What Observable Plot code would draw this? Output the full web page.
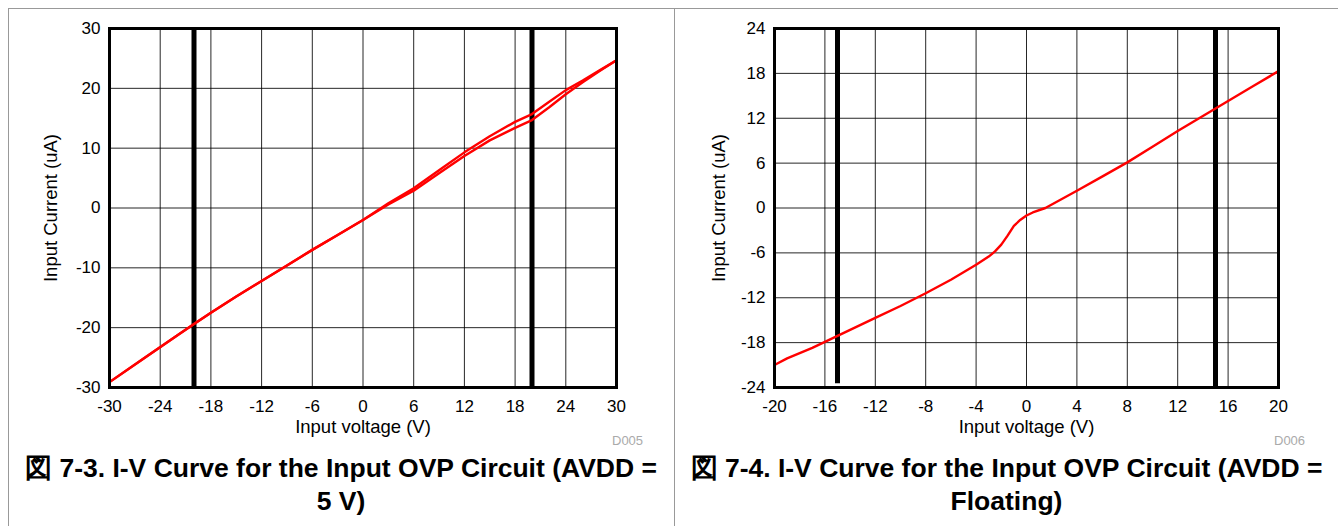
<!DOCTYPE html>
<html>
<head>
<meta charset="utf-8">
<script src="https://cdn.jsdelivr.net/npm/d3@7"></script>
<script src="https://cdn.jsdelivr.net/npm/@observablehq/plot@0.6"></script>
<style>
  html, body { margin: 0; padding: 0; background: #fff; }
  body { width: 1338px; height: 526px; position: relative; overflow: hidden; font-family: "Liberation Sans", Arial, sans-serif; }
  .border { position: absolute; left: 8px; top: 8px; width: 1400px; height: 600px; border-left: 1px solid #999; border-top: 1px solid #999; }
  .divider { position: absolute; left: 674px; top: 8px; width: 1px; height: 600px; background: #999; }
  .panel { position: absolute; top: 0; }
  .caption { position: absolute; font-weight: bold; font-size: 26.5px; line-height: 33px; text-align: center; color: #000; white-space: nowrap; }
  .code { position: absolute; font-size: 13px; color: #aaa; }
</style>
</head>
<body>
<div class="border"></div>
<div class="divider"></div>
<div id="left" class="panel" style="left:0px"></div>
<div id="right" class="panel" style="left:674px"></div>
<div class="caption" style="left:8px; width:666px; top:452px;">図 7-3. I-V Curve for the Input OVP Circuit (AVDD =<br>5 V)</div>
<div class="caption" style="left:675px; width:663px; top:452px;">図 7-4. I-V Curve for the Input OVP Circuit (AVDD =<br>Floating)</div>
<div class="code" style="left:612px; top:433px;">D005</div>
<div class="code" style="left:1274px; top:433px;">D006</div>
<script>
// ---- Figure 7-3 (AVDD = 5 V): hysteresis loop, two sweeps ----
const leftVoltage = [-30, -26, -22, -20, -18, -15, -12, -9, -6, -3, 0, 3, 6, 9, 12, 15, 18, 20, 22, 24, 26, 28, 30];
const leftCurrentUp = [-29.1, -25.2, -21.3, -19.4, -17.5, -14.8, -12.2, -9.6, -7.0, -4.5, -2.0, 0.8, 3.3, 6.3, 9.3, 12.0, 14.4, 15.7, 17.7, 19.7, 21.3, 23.0, 24.7];
const leftCurrentDown = [-29.1, -25.2, -21.3, -19.4, -17.5, -14.8, -12.2, -9.6, -7.0, -4.5, -2.0, 0.6, 2.9, 5.8, 8.7, 11.3, 13.4, 14.7, 16.8, 19.0, 21.0, 22.9, 24.7];
const leftLimits = [-20, 20];
const leftXTicks = [-30, -24, -18, -12, -6, 0, 6, 12, 18, 24, 30];
const leftYTicks = [-30, -20, -10, 0, 10, 20, 30];

// ---- Figure 7-4 (AVDD = Floating) ----
const rightVoltage = [-20, -19, -17, -16, -14, -12, -10, -8, -6, -4, -3, -2.5, -2, -1.5, -1, -0.5, 0, 0.5, 1.5, 4, 6, 8, 10, 12, 14, 16, 18, 20];
const rightCurrent = [-21.0, -20.1, -18.7, -17.9, -16.3, -14.7, -13.1, -11.4, -9.6, -7.6, -6.5, -5.8, -4.9, -3.7, -2.4, -1.6, -1.0, -0.6, 0.0, 2.3, 4.2, 6.1, 8.2, 10.3, 12.3, 14.3, 16.3, 18.3];
const rightLimits = [-15, 15];
const rightXTicks = [-20, -16, -12, -8, -4, 0, 4, 8, 12, 16, 20];
const rightYTicks = [-24, -18, -12, -6, 0, 6, 12, 18, 24];

const xLabel = "Input voltage (V)";
const yLabel = "Input Current (uA)";

const leftUp = leftVoltage.map((v, i) => ({v, c: leftCurrentUp[i]}));
const leftDown = leftVoltage.map((v, i) => ({v, c: leftCurrentDown[i]}));
const rightData = rightVoltage.map((v, i) => ({v, c: rightCurrent[i]}));

const style = {fontFamily: "'Liberation Sans', Arial, sans-serif", fontSize: "17px", color: "#000", background: "transparent", overflow: "visible"};
const fmt = d => String(d);

function chart({width, ml, mr, xDomain, yDomain, xTicks, yTicks, limits, limitY1, series, yLabelOffset}) {
  const plot = Plot.plot({
    width, height: 460,
    marginLeft: ml, marginRight: mr, marginTop: 28, marginBottom: 73,
    style,
    x: {domain: xDomain},
    y: {domain: yDomain},
    marks: [
      Plot.gridX(xTicks, {stroke: "#000", strokeOpacity: 0.85, strokeWidth: 1}),
      Plot.gridY(yTicks, {stroke: "#000", strokeOpacity: 0.85, strokeWidth: 1}),
      Plot.ruleX(limits, {y1: (d, i) => (limitY1 ? limitY1[i] : yDomain[0]), y2: yDomain[1], stroke: "#000", strokeWidth: 5}),
      ...series.map(s => Plot.line(s, {x: "v", y: "c", stroke: "#ff0000", strokeWidth: 2.4})),
      Plot.frame({stroke: "#000", strokeWidth: 3}),
      Plot.axisX(xTicks, {tickSize: 0, tickPadding: 12, tickFormat: fmt, label: xLabel, labelAnchor: "center", labelArrow: "none", labelOffset: 45, fontSize: 17}),
      Plot.axisY(yTicks, {tickSize: 0, tickPadding: 9, tickFormat: fmt, label: yLabel, labelAnchor: "center", labelArrow: "none", labelOffset: yLabelOffset, fontSize: 17})
    ]
  });
  // axis titles slightly larger than tick labels
  plot.querySelectorAll("g[aria-label='x-axis label'] text, g[aria-label='y-axis label'] text").forEach(t => t.setAttribute("font-size", "18.5"));
  return plot;
}

document.getElementById("left").append(chart({
  width: 680, ml: 109, mr: 64,
  xDomain: [-30, 30], yDomain: [-30, 30],
  xTicks: leftXTicks, yTicks: leftYTicks,
  limits: leftLimits, limitY1: null,
  series: [leftUp, leftDown], yLabelOffset: 66
}));

document.getElementById("right").append(chart({
  width: 664, ml: 100, mr: 60,
  xDomain: [-20, 20], yDomain: [-24, 24],
  xTicks: rightXTicks, yTicks: rightYTicks,
  limits: rightLimits, limitY1: [-23.5, -24],
  series: [rightData], yLabelOffset: 63
}));
</script>
</body>
</html>
